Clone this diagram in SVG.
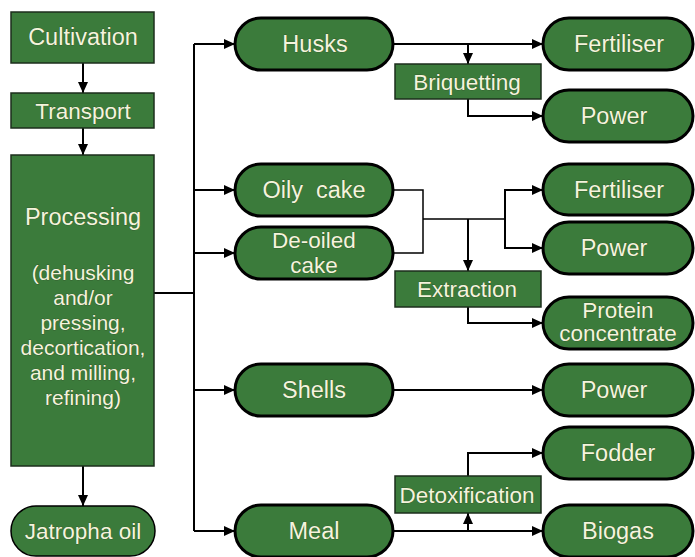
<svg xmlns="http://www.w3.org/2000/svg" width="695" height="557" viewBox="0 0 695 557">
<defs>
<marker id="ah" markerUnits="userSpaceOnUse" markerWidth="12" markerHeight="10" refX="11" refY="5" orient="auto">
<path d="M0,0 L11,5 L0,10 Z" fill="#000"/>
</marker>
<style>
.box{fill:#3b7b3b;stroke:#1c2e1c;stroke-width:1.5}
.pill{fill:#3b7b3b;stroke:#000;stroke-width:3}
.t{font-family:"Liberation Sans",Arial,sans-serif;fill:#f4f4dc;text-anchor:middle;font-size:23.5px;stroke:#2b3f22;stroke-width:0.5;paint-order:stroke}
.m{font-size:22.5px}
.s{font-size:21px}
.c{fill:none;stroke:#000;stroke-width:2}
.thin{stroke-width:1.5}
</style>
</defs>
<rect width="695" height="557" fill="#fff"/>
<g id="connectors">
<path class="c" d="M83,63 V93" marker-end="url(#ah)"/>
<path class="c" d="M83,128 V155" marker-end="url(#ah)"/>
<path class="c" d="M83,466 V506" marker-end="url(#ah)"/>
<path class="c" d="M154,293 H194 M194,44 V531"/>
<path class="c" d="M194,44 H235" marker-end="url(#ah)"/>
<path class="c" d="M194,190 H235" marker-end="url(#ah)"/>
<path class="c" d="M194,253 H235" marker-end="url(#ah)"/>
<path class="c" d="M194,390 H235" marker-end="url(#ah)"/>
<path class="c" d="M194,531 H235" marker-end="url(#ah)"/>
<path class="c" d="M393,44 H543" marker-end="url(#ah)"/>
<path class="c" d="M468,44 V64" marker-end="url(#ah)"/>
<path class="c" d="M468,99 V116 H543" marker-end="url(#ah)"/>
<path class="c thin" d="M393,190 H423 V253 H393 M423,219 H505"/>
<path class="c" d="M468,219 V271" marker-end="url(#ah)"/>
<path class="c" d="M505,219 V190 H543" marker-end="url(#ah)"/>
<path class="c" d="M505,219 V248 H543" marker-end="url(#ah)"/>
<path class="c" d="M468,307 V323 H543" marker-end="url(#ah)"/>
<path class="c" d="M393,390 H543" marker-end="url(#ah)"/>
<path class="c" d="M393,531 H543" marker-end="url(#ah)"/>
<path class="c" d="M468,531 V513" marker-end="url(#ah)"/>
<path class="c" d="M468,476 V453 H543" marker-end="url(#ah)"/>
</g>
<g id="cultivation"><rect class="box" x="11" y="12" width="143" height="51"/><text class="t" x="83" y="45">Cultivation</text></g>
<g id="transport"><rect class="box" x="11" y="93" width="143" height="35"/><text class="t m" x="83" y="119">Transport</text></g>
<g id="processing"><rect class="box" x="11" y="155" width="143" height="311"/>
<text class="t" x="83" y="225">Processing</text>
<text class="t s" x="83" y="280">(dehusking</text>
<text class="t s" x="83" y="305">and/or</text>
<text class="t s" x="83" y="330">pressing,</text>
<text class="t s" x="83" y="355">decortication,</text>
<text class="t s" x="83" y="380">and milling,</text>
<text class="t s" x="83" y="405">refining)</text>
</g>
<g id="jatropha"><rect class="pill" style="stroke-width:1.5" x="11" y="506" width="144" height="50" rx="25"/><text class="t m" x="83" y="539">Jatropha oil</text></g>
<g id="husks"><rect class="pill" x="235" y="18" width="158" height="52" rx="26"/><text class="t" x="315" y="52">Husks</text></g>
<g id="oilycake"><rect class="pill" x="235" y="164" width="158" height="52" rx="26"/><text class="t" x="314" y="198" xml:space="preserve">Oily  cake</text></g>
<g id="deoiled"><rect class="pill" x="235" y="227" width="158" height="52" rx="26"/><text class="t m" x="314" y="248">De-oiled</text><text class="t m" x="314" y="273">cake</text></g>
<g id="shells"><rect class="pill" x="235" y="364" width="158" height="52" rx="26"/><text class="t" x="314" y="398">Shells</text></g>
<g id="meal"><rect class="pill" x="235" y="505" width="158" height="52" rx="26"/><text class="t" x="314" y="539">Meal</text></g>
<g id="briquetting"><rect class="box" x="395" y="64" width="146" height="35"/><text class="t m" x="467" y="90">Briquetting</text></g>
<g id="extraction"><rect class="box" x="395" y="271" width="146" height="36"/><text class="t m" x="467" y="297">Extraction</text></g>
<g id="detox"><rect class="box" x="395" y="476" width="146" height="37"/><text class="t m" x="467" y="503">Detoxification</text></g>
<g id="fertiliser1"><rect class="pill" x="543" y="18" width="150" height="52" rx="26"/><text class="t" x="619" y="52">Fertiliser</text></g>
<g id="power1"><rect class="pill" x="543" y="90" width="150" height="52" rx="26"/><text class="t" x="614" y="124">Power</text></g>
<g id="fertiliser2"><rect class="pill" x="543" y="164" width="150" height="51" rx="25.5"/><text class="t" x="619" y="198">Fertiliser</text></g>
<g id="power2"><rect class="pill" x="543" y="222" width="150" height="52" rx="26"/><text class="t" x="614" y="256">Power</text></g>
<g id="protein"><rect class="pill" x="543" y="297" width="150" height="52" rx="26"/><text class="t m" x="618" y="318">Protein</text><text class="t m" x="618" y="341">concentrate</text></g>
<g id="power3"><rect class="pill" x="543" y="364" width="150" height="52" rx="26"/><text class="t" x="614" y="398">Power</text></g>
<g id="fodder"><rect class="pill" x="543" y="427" width="150" height="52" rx="26"/><text class="t" x="618" y="461">Fodder</text></g>
<g id="biogas"><rect class="pill" x="543" y="505" width="150" height="52" rx="26"/><text class="t" x="618" y="539">Biogas</text></g>
</svg>
